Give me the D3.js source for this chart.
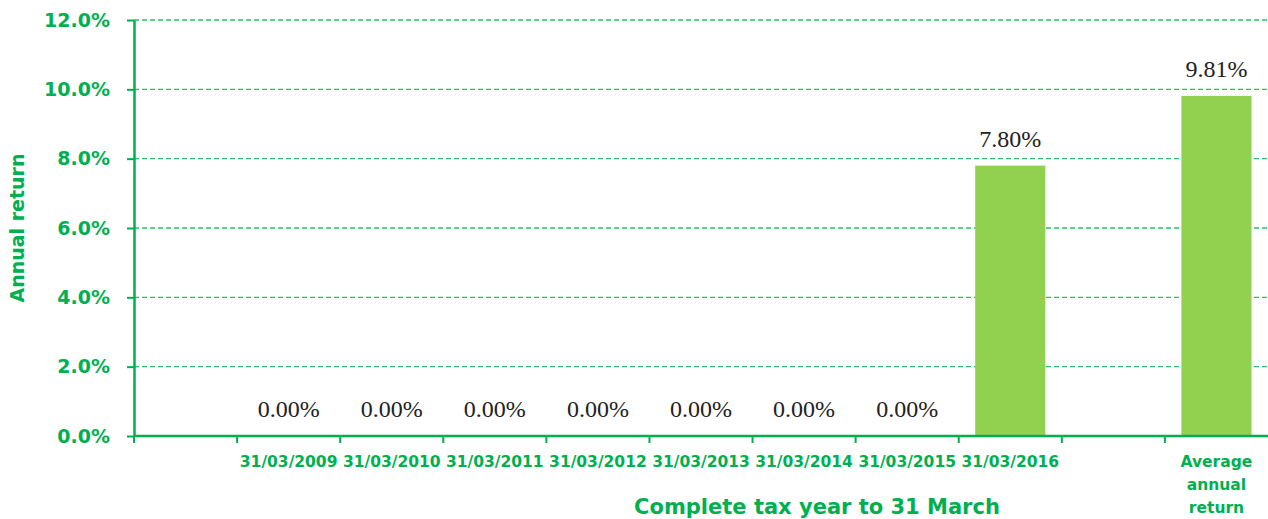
<!DOCTYPE html>
<html>
<head>
<meta charset="utf-8">
<script src="https://cdn.jsdelivr.net/npm/d3@7"></script>
<style>
  body { margin: 0; background: #fff; }
  svg { display: block; }
</style>
</head>
<body>
<div id="chart"></div>
<script>
// data
const categories = ["", "31/03/2009", "31/03/2010", "31/03/2011", "31/03/2012", "31/03/2013",
                    "31/03/2014", "31/03/2015", "31/03/2016", "blank", "Average annual return"];
const returns = [null, 0, 0, 0, 0, 0, 0, 0, 7.80, null, 9.81];
const yTicks = [0, 2, 4, 6, 8, 10, 12];

const width = 1268, height = 519;
const margin = {top: 20, right: 0, bottom: 83, left: 134};

const green = "#00b050";
const barColor = "#92d050";

const svg = d3.select("#chart").append("svg")
    .attr("width", width)
    .attr("height", height);

const x = d3.scaleBand()
    .domain(categories)
    .range([margin.left, width - margin.right])
    .paddingInner(0.32)
    .paddingOuter(0.16);

const y = d3.scaleLinear()
    .domain([0, 12])
    .range([height - margin.bottom, margin.top]);

// gridlines
svg.append("g")
    .selectAll("line")
    .data(yTicks.filter(d => d > 0))
    .join("line")
    .attr("x1", margin.left)
    .attr("x2", width)
    .attr("y1", d => y(d))
    .attr("y2", d => y(d))
    .attr("stroke", "#2fbf6a")
    .attr("stroke-width", 1.4)
    .attr("stroke-dasharray", "5,3");

// bars
const barData = categories.map((c, i) => ({cat: c, val: returns[i]}));
svg.append("g")
    .selectAll("rect")
    .data(barData.filter(d => d.val !== null))
    .join("rect")
    .attr("x", d => x(d.cat))
    .attr("width", x.bandwidth())
    .attr("y", d => y(d.val))
    .attr("height", d => y(0) - y(d.val))
    .attr("fill", barColor);

// value labels
svg.append("g")
    .selectAll("text")
    .data(barData.filter(d => d.val !== null))
    .join("text")
    .attr("x", d => x(d.cat) + x.bandwidth() / 2)
    .attr("y", d => y(d.val) - 19)
    .attr("text-anchor", "middle")
    .attr("font-family", "'Liberation Serif', serif")
    .attr("font-size", 24)
    .attr("fill", "#222")
    .text(d => d.val.toFixed(2) + "%");

// y axis
const yAxis = svg.append("g")
    .attr("transform", `translate(${margin.left},0)`)
    .call(d3.axisLeft(y).tickValues(yTicks).tickSize(7).tickSizeOuter(0)
        .tickFormat(d => d.toFixed(1) + "%"));
yAxis.select(".domain").attr("stroke", green).attr("stroke-width", 2.5);
yAxis.selectAll(".tick line").attr("stroke", green).attr("stroke-width", 2);
yAxis.selectAll(".tick text")
    .attr("x", -24)
    .attr("fill", green)
    .attr("font-family", "'DejaVu Sans', sans-serif")
    .attr("font-weight", "bold")
    .attr("font-size", 19);

// x axis: tick marks at band boundaries
const step = x.step();
const bounds = d3.range(categories.length + 1).map(i => margin.left + i * step);
svg.append("line")
    .attr("x1", margin.left).attr("x2", width)
    .attr("y1", y(0)).attr("y2", y(0))
    .attr("stroke", green).attr("stroke-width", 2.5);
svg.append("g")
    .selectAll("line")
    .data(bounds.slice(0, -1))
    .join("line")
    .attr("x1", d => d).attr("x2", d => d)
    .attr("y1", y(0)).attr("y2", y(0) + 7)
    .attr("stroke", green).attr("stroke-width", 2);

// x tick labels
const xLabels = svg.append("g")
    .attr("fill", green)
    .attr("font-family", "'DejaVu Sans', sans-serif")
    .attr("font-weight", "bold")
    .attr("font-size", 15.5)
    .attr("text-anchor", "middle");
categories.forEach(c => {
    if (c === "" || c === "blank") return;
    const cx = x(c) + x.bandwidth() / 2;
    const lines = c === "Average annual return" ? ["Average", "annual", "return"] : [c];
    const t = xLabels.append("text").attr("x", cx).attr("y", 467);
    lines.forEach((l, i) => {
        t.append("tspan").attr("x", cx).attr("dy", i === 0 ? 0 : 23).text(l);
    });
});

// axis titles
svg.append("text")
    .attr("transform", `translate(24,${(y(0) + y(12)) / 2}) rotate(-90)`)
    .attr("text-anchor", "middle")
    .attr("fill", green)
    .attr("font-family", "'DejaVu Sans', sans-serif")
    .attr("font-weight", "bold")
    .attr("font-size", 19)
    .text("Annual return");

svg.append("text")
    .attr("x", 817)
    .attr("y", 514)
    .attr("text-anchor", "middle")
    .attr("fill", green)
    .attr("font-family", "'DejaVu Sans', sans-serif")
    .attr("font-weight", "bold")
    .attr("font-size", 21)
    .text("Complete tax year to 31 March");
</script>
</body>
</html>
